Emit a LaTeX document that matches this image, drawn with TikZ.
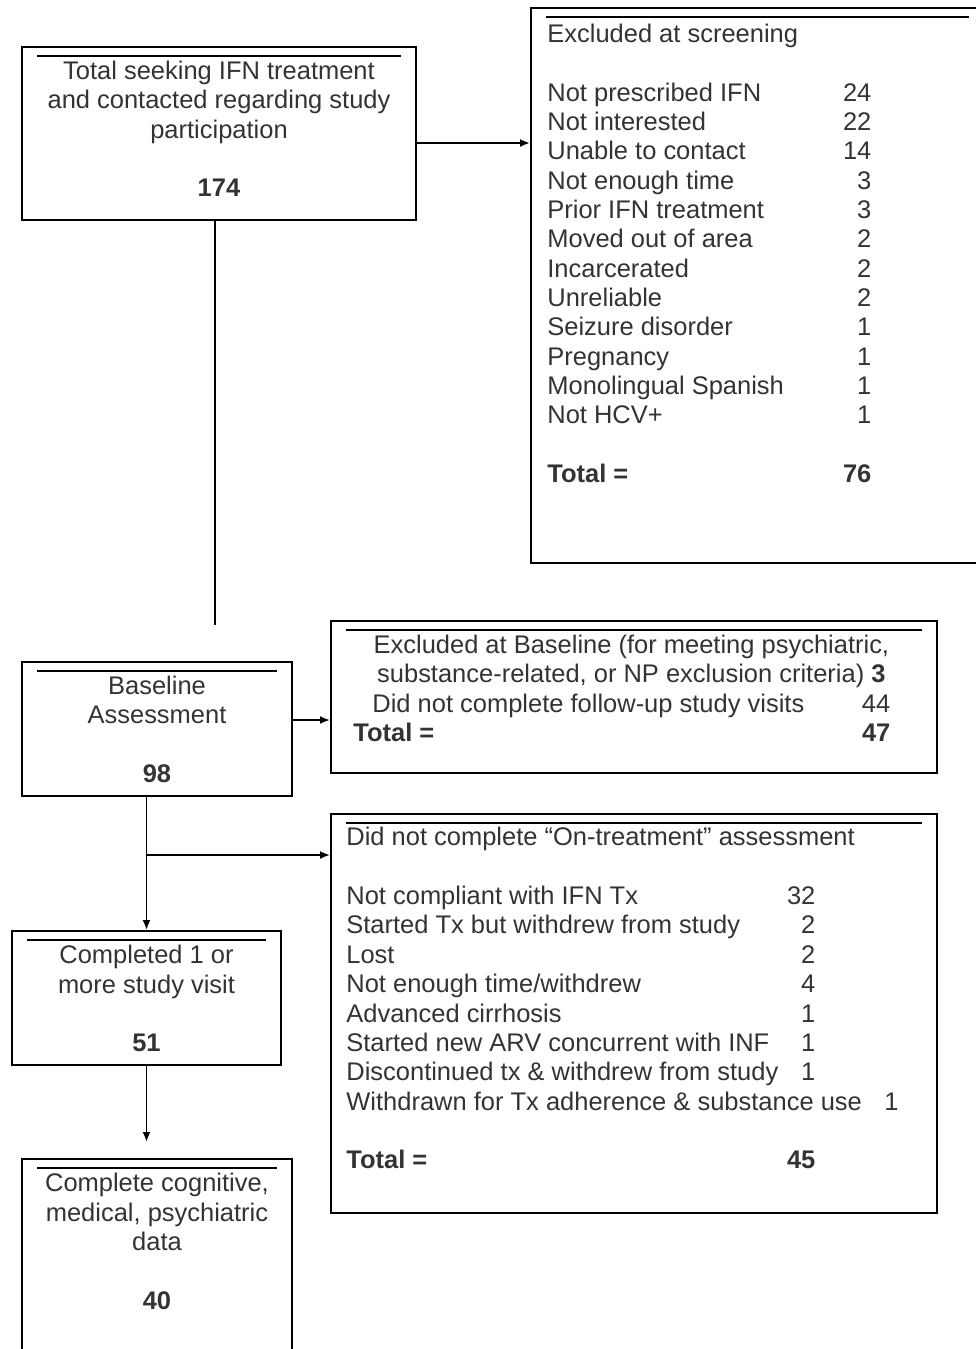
\documentclass[tikz,border=0pt]{standalone}
\usepackage{fontspec}
\setmainfont{Liberation Sans}
\usepackage{tikz}
\usetikzlibrary{shapes,arrows,arrows.meta,positioning}

\definecolor{txtgray}{gray}{0.2}

\tikzset{
  box/.style={draw, rectangle, line width=1.1pt, inner sep=0pt,
    path picture={\draw[line width=1.1pt]
      ([xshift=0.3cm,yshift=-0.18cm]path picture bounding box.north west) --
      ([xshift=-0.3cm,yshift=-0.18cm]path picture bounding box.north east);}},
  boxtext/.style={inner sep=0pt, text=txtgray, font=\fontsize{14.5}{16.7}\selectfont},
  link/.style={line width=1.1pt}
}

\begin{document}
\begin{tikzpicture}[auto, >={Latex[length=0.2cm,width=0.16cm]}]
  \useasboundingbox (0,0) rectangle (19.52,-26.98);
  \clip (0,0) rectangle (19.52,-26.98);

      % Casete stanga
      \node [box, minimum width=7.88cm, minimum height=3.46cm] (total) at (4.38,-2.67) {};
      \node [boxtext, below=0.25cm of total.north] (total_text) {\begin{tabular}{@{}c@{}}
        Total seeking IFN treatment\\ and contacted regarding study\\ participation\\ \\ \textbf{174}\end{tabular}};

      \node [box, minimum width=5.40cm, minimum height=2.68cm] (baseline) at (3.14,-14.58) {};
      \node [boxtext, below=0.25cm of baseline.north] (baseline_text) {\begin{tabular}{@{}c@{}}
        Baseline\\ Assessment\\ \\ \textbf{98}\end{tabular}};

      \node [box, minimum width=5.38cm, minimum height=2.68cm] (completed) at (2.93,-19.96) {};
      \node [boxtext, below=0.26cm of completed.north] (completed_text) {\begin{tabular}{@{}c@{}}
        Completed 1 or\\ more study visit\\ \\ \textbf{51}\end{tabular}};

      \node [box, minimum width=5.40cm, minimum height=4.02cm] (complete_data) at (3.14,-25.19) {};
      \node [boxtext, below=0.26cm of complete_data.north] (complete_data_text) {\begin{tabular}{@{}c@{}}
        Complete cognitive,\\ medical, psychiatric\\ data\\ \\ \textbf{40}\end{tabular}};

      % Casete de excludere
      \node [box, minimum width=9.06cm, minimum height=11.10cm] (excl_screen) at (15.15,-5.71) {};
      \node [boxtext, below right=0.29cm and 0.34cm of excl_screen.north west] (excl_screen_text) {%
        \begin{tabular*}{6.48cm}{@{}l@{\extracolsep{\fill}}r@{}}
        \multicolumn{2}{@{}l@{}}{Excluded at screening}\\
        \\
        Not prescribed IFN & 24\\
        Not interested & 22\\
        Unable to contact & 14\\
        Not enough time & 3\\
        Prior IFN treatment & 3\\
        Moved out of area & 2\\
        Incarcerated & 2\\
        Unreliable & 2\\
        Seizure disorder & 1\\
        Pregnancy & 1\\
        Monolingual Spanish & 1\\
        Not HCV+ & 1\\
        \\
        \textbf{Total =} & \textbf{76}
        \end{tabular*}};

      \node [box, minimum width=12.12cm, minimum height=3.04cm] (excl_baseline) at (12.68,-13.94) {};
      \node [boxtext, below right=0.25cm and 0.46cm of excl_baseline.north west] (excl_baseline_text) {%
        \begin{tabular*}{10.74cm}{@{}l@{\extracolsep{\fill}}r@{}}
        \multicolumn{2}{@{\hspace{0.38cm}}c@{}}{Excluded at Baseline (for meeting psychiatric,}\\
        \multicolumn{2}{@{\hspace{0.38cm}}c@{}}{substance-related, or NP exclusion criteria) \textbf{3}}\\
        \hspace{0.38cm}Did not complete follow-up study visits & 44\\
        \textbf{Total =} & \textbf{47}
        \end{tabular*}};

      \node [box, minimum width=12.12cm, minimum height=7.98cm] (ontreatment) at (12.68,-20.27) {};
      \node [boxtext, below right=0.24cm and 0.32cm of ontreatment.north west] (ontreatment_text) {%
        \begin{tabular*}{9.38cm}{@{}l@{\extracolsep{\fill}}r@{}}
        \multicolumn{2}{@{}l@{}}{\rlap{Did not complete ``On-treatment'' assessment}}\\
        \\
        Not compliant with IFN Tx & 32\\
        Started Tx but withdrew from study & 2\\
        Lost & 2\\
        Not enough time/withdrew & 4\\
        Advanced cirrhosis & 1\\
        Started new ARV concurrent with INF & 1\\
        Discontinued tx \& withdrew from study & 1\\
        \multicolumn{2}{@{}l@{}}{\rlap{Withdrawn for Tx adherence \& substance use\hspace{0.45cm}1}}\\
        \\
        \textbf{Total =} & \textbf{45}
        \end{tabular*}};

      % Linii de legatura
      \coordinate (gap_top) at ([xshift=-0.08cm]total.south);
      \coordinate (gap_end) at (gap_top |- 0,-12.50);
      \coordinate (split) at (completed.north |- 0,-17.10);
      \coordinate (data_arrow) at (completed.south |- 0,-22.84);
      \draw [link, ->] ([yshift=-0.19cm]total.east) -- ([yshift=-0.19cm]total.east -| excl_screen.west);
      \draw [link] (gap_top) -- (gap_end);
      \draw [link, ->] ([yshift=0.18cm]baseline.east) -- ([yshift=0.18cm]baseline.east -| excl_baseline.west);
      \draw [link, ->] (baseline.south -| completed.north) -- (completed.north);
      \draw [link, ->] (split) -- (split -| ontreatment.west);
      \draw [link, ->] (completed.south) -- (data_arrow);

\end{tikzpicture}
\end{document}
